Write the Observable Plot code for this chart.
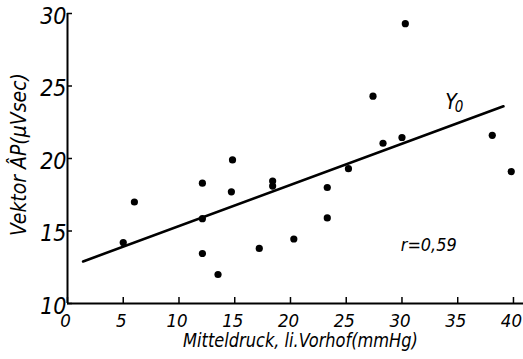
<!DOCTYPE html>
<html>
<head>
<meta charset="utf-8">
<script src="https://cdn.jsdelivr.net/npm/d3@7"></script>
<script src="https://cdn.jsdelivr.net/npm/@observablehq/plot@0.6"></script>
<style>
  html, body { margin: 0; padding: 0; background: #fff; }
</style>
</head>
<body>
<div id="chart"></div>
<script>
// Data
const pressure = [5.0, 6.0, 12.1, 12.1, 12.1, 13.5, 14.8, 14.7, 17.2, 18.4, 18.4, 20.3, 23.3, 23.3, 25.2, 27.4, 28.3, 30.0, 30.3, 38.1, 39.8];
const vector   = [14.2, 17.0, 18.3, 15.85, 13.45, 12.0, 19.9, 17.7, 13.8, 18.45, 18.1, 14.45, 18.0, 15.9, 19.3, 24.3, 21.05, 21.45, 29.3, 21.6, 19.1];
const fitX = [1.4, 39.1];
const fitY = [12.9, 23.6];
const xTicks = [0, 5, 10, 15, 20, 25, 30, 35, 40];
const yTicks = [10, 15, 20, 25, 30];
const xLabel = "Mitteldruck, li.Vorhof(mmHg)";
const yLabel = "Vektor \u00C2P(\u03BCVsec)";
const rLabel = "r=0,59";
const fitLabel = "Y";
const fitSub = "0";

const points = pressure.map((x, i) => ({x, y: vector[i]}));
const fit = fitX.map((x, i) => ({x, y: fitY[i]}));

const font = "'DejaVu Sans Condensed', 'DejaVu Sans', sans-serif";

const chart = Plot.plot({
  width: 523,
  height: 359,
  marginLeft: 67,
  marginRight: 0,
  marginTop: 13,
  marginBottom: 56,
  style: {fontFamily: font, fontStyle: "italic", color: "#000", background: "#fff"},
  x: {domain: [0, 40.9]},
  y: {domain: [10, 30]},
  marks: [
    // inward tick marks
    Plot.axisX({ticks: xTicks, tickSize: 6, dy: -6, strokeWidth: 1.5, tickFormat: () => "", label: null}),
    Plot.axisY({ticks: yTicks, tickSize: 5, dx: 5, strokeWidth: 1.5, tickFormat: () => "", label: null}),
    // tick labels
    Plot.axisX({ticks: xTicks, tickSize: 0, tickPadding: 10, fontSize: 18.5, label: null, dx: -2, ariaLabel: "xlabels"}),
    Plot.axisY({ticks: yTicks, tickSize: 0, tickPadding: 1, fontSize: 23, label: null, dy: 3, ariaLabel: "ylabels"}),
    Plot.ruleY([10], {strokeWidth: 2}),
    Plot.ruleX([0], {strokeWidth: 2}),
    Plot.line(fit, {x: "x", y: "y", strokeWidth: 2.6, stroke: "#000"}),
    Plot.dot(points, {x: "x", y: "y", r: 3.6, fill: "#000", stroke: "none"}),
    Plot.text([rLabel], {x: 32.4, y: 13.65, text: d => d, fontSize: 18}),
    Plot.text([fitLabel], {x: 34.4, y: 23.85, text: d => d, fontSize: 21, ariaLabel: "fitlabel"}),
    Plot.text([fitSub], {x: 34.4, y: 23.85, text: d => d, fontSize: 15, dx: 8, dy: 5, ariaLabel: "fitsub"}),
    Plot.text([xLabel], {frameAnchor: "bottom", textAnchor: "middle", lineAnchor: "middle", text: d => d, dx: 5, dy: 43.5, fontSize: 19.5}),
    Plot.text([yLabel], {frameAnchor: "left", textAnchor: "middle", lineAnchor: "middle", text: d => d, rotate: -90, dx: -42, dy: -4, fontSize: 21})
  ]
});

document.getElementById("chart").appendChild(chart);

// horizontal squeeze of the hand-lettered condensed type
function squeeze(sel, s) {
  sel.each(function () {
    const f = typeof s === "function" ? s(this) : s;
    const x = +this.getAttribute("x") || 0;
    const y = +this.getAttribute("y") || 0;
    const t = this.getAttribute("transform") || "";
    this.setAttribute("transform", `${t} translate(${x},${y}) scale(${f},1)`);
    this.setAttribute("x", 0);
    this.setAttribute("y", 0);
  });
}
const root = d3.select(chart);
const byText = (str) => root.selectAll("text").filter(function () { return this.textContent === str; });
const fitTo = (len) => (el) => Math.min(1, len / el.getComputedTextLength());
squeeze(root.selectAll("g[aria-label='xlabels'] text"), 0.75);
squeeze(root.selectAll("g[aria-label='ylabels'] text"), 0.8);
squeeze(root.selectAll("g[aria-label='fitlabel'] text, g[aria-label='fitsub'] text"), 0.8);
squeeze(byText(xLabel), fitTo(235));
squeeze(byText(yLabel), fitTo(181));
squeeze(byText(rLabel), fitTo(56));
</script>
</body>
</html>
